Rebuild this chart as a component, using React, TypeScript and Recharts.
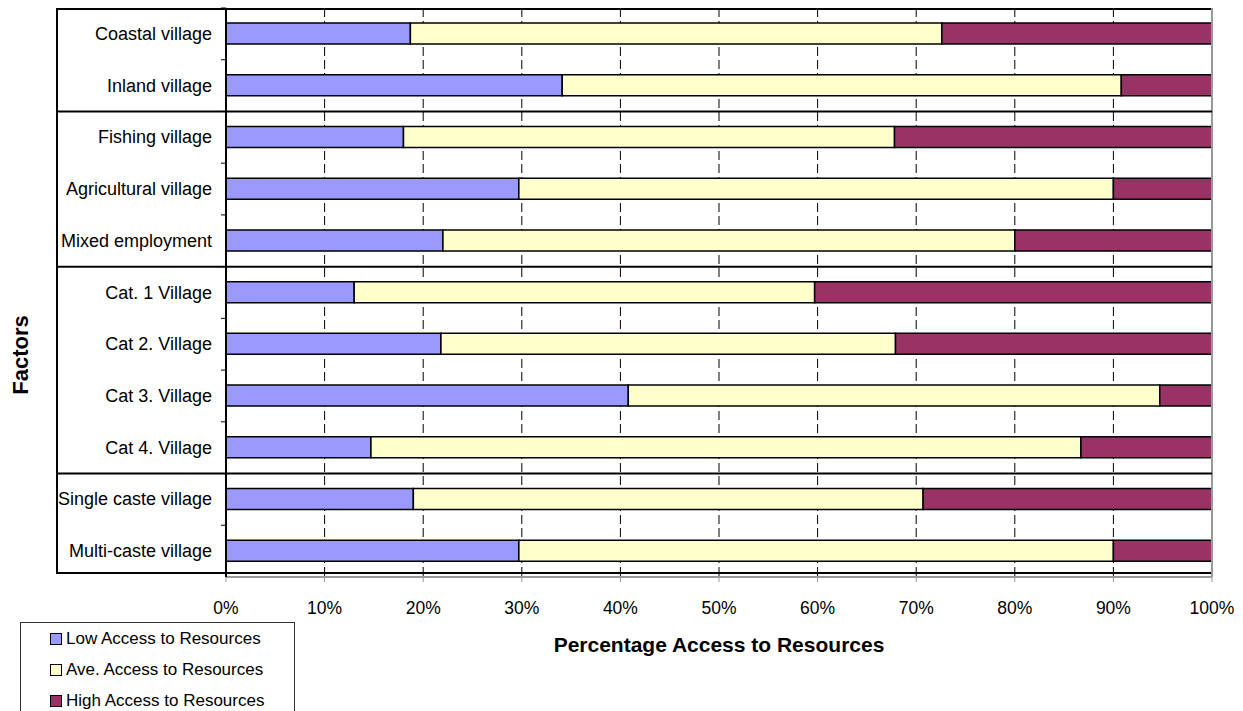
import { BarChart, Bar, XAxis, YAxis, CartesianGrid, Legend, ReferenceLine } from 'recharts';

// Village factors, top to bottom
const categories = [
  'Coastal village',
  'Inland village',
  'Fishing village',
  'Agricultural village',
  'Mixed employment',
  'Cat. 1 Village',
  'Cat 2. Village',
  'Cat 3. Village',
  'Cat 4. Village',
  'Single caste village',
  'Multi-caste village',
];

// Share of households (%) in each access band
const lowAccess = [18.7, 34.1, 18.0, 29.7, 22.0, 13.0, 21.8, 40.8, 14.7, 19.0, 29.7];
const aveAccess = [53.9, 56.7, 49.8, 60.3, 58.0, 46.7, 46.1, 53.9, 72.0, 51.7, 60.3];
const highAccess = [27.4, 9.2, 32.2, 10.0, 20.0, 40.3, 32.1, 5.3, 13.3, 29.3, 10.0];

// First category of each factor group (a rule is drawn above it)
const groupStarts = ['Fishing village', 'Cat. 1 Village', 'Single caste village'];

const seriesOrder = ['low', 'ave', 'high'];

const xTicks = [0, 10, 20, 30, 40, 50, 60, 70, 80, 90, 100];

const data = categories.map((name, i) => ({
  name,
  low: lowAccess[i],
  ave: aveAccess[i],
  high: highAccess[i],
}));

const FONT = "Arial, 'Liberation Sans', sans-serif";
const W = 1243;
const H = 711;
const PLOT_LEFT = 226;
const PLOT_TOP = 8;
const PLOT_RIGHT = 1212;
const PLOT_BOTTOM = 577;
const FRAME_LEFT = 56;
const XAXIS_H = 60;

const CategoryTick = (props: any) => {
  const { y, payload } = props;
  const half = payload.offset || (PLOT_BOTTOM - PLOT_TOP) / categories.length / 2;
  const top = y - half;
  const isStart = groupStarts.includes(payload.value);
  return (
    <g>
      <line x1={PLOT_LEFT - 5} x2={PLOT_LEFT} y1={top} y2={top} stroke="#000" />
      {isStart && (
        <line x1={FRAME_LEFT} x2={PLOT_RIGHT} y1={top} y2={top} stroke="#000" strokeWidth={2} />
      )}
      <text
        x={PLOT_LEFT - 14}
        y={y}
        textAnchor="end"
        dominantBaseline="central"
        fontSize={18}
        fontFamily={FONT}
        fill="#000"
      >
        {payload.value}
      </text>
    </g>
  );
};

const LegendBox = (props: any) => {
  const items = [...(props.payload || [])].sort(
    (a: any, b: any) => seriesOrder.indexOf(a.dataKey) - seriesOrder.indexOf(b.dataKey)
  );
  return (
    <div
      style={{
        width: 275,
        height: 89,
        boxSizing: 'border-box',
        border: '1px solid #333',
        borderBottom: 'none',
        background: '#fff',
        fontFamily: FONT,
        fontSize: 17,
        lineHeight: '20px',
      }}
    >
      {items.map((item: any) => (
        <div key={item.value} style={{ display: 'flex', alignItems: 'center', height: 31, paddingLeft: 29 }}>
          <span
            style={{
              display: 'inline-block',
              width: 10,
              height: 10,
              border: '1.5px solid #000',
              background: item.color,
              marginRight: 4,
            }}
          />
          <span style={{ color: '#000' }}>{item.value}</span>
        </div>
      ))}
    </div>
  );
};

const App = () => {
  return (
    <div style={{ position: 'absolute', left: 0, top: 0, width: W, height: H, background: '#fff', overflow: 'hidden' }}>
      {/* outer frame around labels and plot */}
      <div
        style={{
          position: 'absolute',
          left: FRAME_LEFT,
          top: PLOT_TOP,
          width: PLOT_RIGHT - FRAME_LEFT,
          height: 574 - PLOT_TOP,
          boxSizing: 'border-box',
          borderTop: '2px solid #000',
          borderLeft: '2px solid #000',
          borderBottom: '2px solid #000',
        }}
      />
      <BarChart
        width={W}
        height={H}
        data={data}
        layout="vertical"
        barSize={21}
        margin={{ top: PLOT_TOP, right: W - PLOT_RIGHT, left: 0, bottom: H - PLOT_BOTTOM - XAXIS_H }}
        style={{ position: 'absolute', left: 0, top: 0 }}
      >
        <CartesianGrid horizontal={false} stroke="#000" strokeDasharray="9 4" />
        <XAxis
          type="number"
          domain={[0, 100]}
          ticks={xTicks}
          allowDataOverflow
          tickFormatter={(v: number) => `${v}%`}
          height={XAXIS_H}
          axisLine={{ stroke: '#999', strokeWidth: 2 }}
          tickLine={{ stroke: '#999' }}
          tickSize={5}
          tickMargin={20}
          tick={{ fill: '#000', fontSize: 17.5, fontFamily: FONT }}
          label={(p: any) => {
            const vb = p.viewBox;
            return (
              <text
                x={vb.x + vb.width / 2}
                y={vb.y + 67}
                textAnchor="middle"
                dominantBaseline="central"
                fontSize={21}
                fontWeight="bold"
                fontFamily={FONT}
                fill="#000"
              >
                Percentage Access to Resources
              </text>
            );
          }}
        />
        <YAxis
          type="category"
          dataKey="name"
          width={PLOT_LEFT}
          axisLine={{ stroke: '#000', strokeWidth: 2 }}
          tickLine={false}
          tick={<CategoryTick />}
          interval={0}
          label={() => (
            <text
              x={20}
              y={355}
              transform="rotate(-90, 20, 355)"
              textAnchor="middle"
              dominantBaseline="central"
              fontSize={22}
              fontWeight="bold"
              fontFamily={FONT}
              fill="#000"
            >
              Factors
            </text>
          )}
        />
        <ReferenceLine x={100} stroke="#999" strokeWidth={2} />
        <Legend
          layout="vertical"
          align="center"
          verticalAlign="middle"
          content={<LegendBox />}
          wrapperStyle={{ left: 20, top: 622, width: 275, height: 89 }}
        />
        <Bar dataKey="low" name="Low Access to Resources" stackId="a" fill="#9999FF" stroke="#000" strokeWidth={1.5} isAnimationActive={false} />
        <Bar dataKey="ave" name="Ave. Access to Resources" stackId="a" fill="#FFFFCC" stroke="#000" strokeWidth={1.5} isAnimationActive={false} />
        <Bar dataKey="high" name="High Access to Resources" stackId="a" fill="#993366" stroke="#000" strokeWidth={1.5} isAnimationActive={false} />
      </BarChart>
    </div>
  );
};

export default App;
